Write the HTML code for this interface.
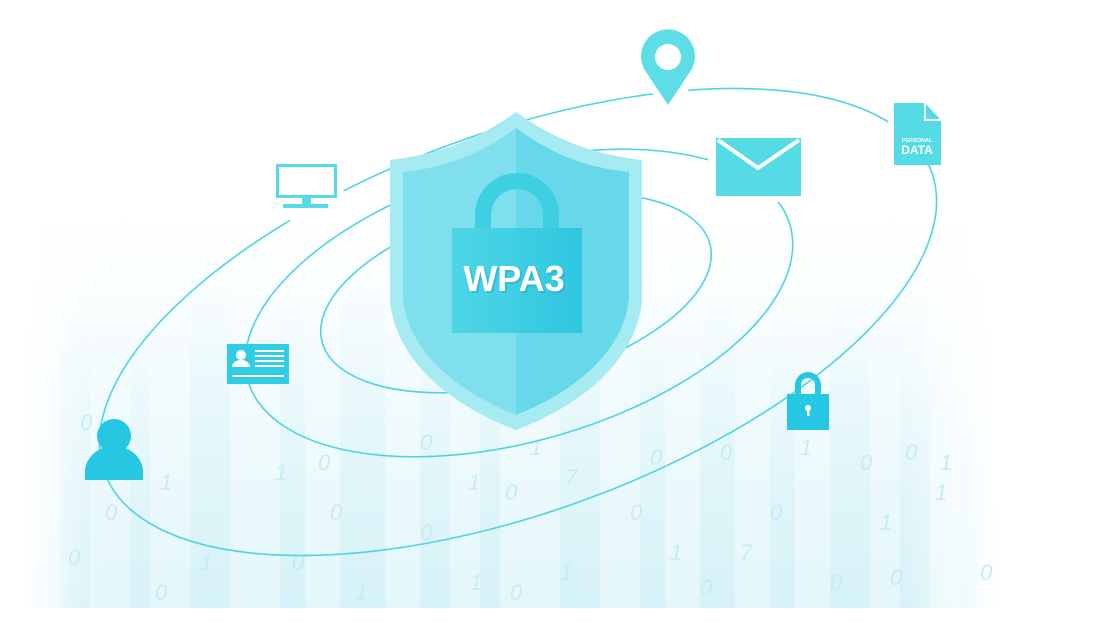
<!DOCTYPE html>
<html><head><meta charset="utf-8"><style>
html,body{margin:0;padding:0;background:#fff;}
body{width:1116px;height:623px;overflow:hidden;position:relative;font-family:"Liberation Sans",sans-serif;}
svg{display:block;}
</style></head><body>
<svg width="1116" height="623" viewBox="0 0 1116 623" xmlns="http://www.w3.org/2000/svg">
<defs>
<linearGradient id="fade" x1="0" y1="0" x2="0" y2="1">
<stop offset="0" stop-color="#eefafc" stop-opacity="0"/>
<stop offset="0.5" stop-color="#e8f8fb" stop-opacity="0.6"/>
<stop offset="1" stop-color="#e2f6fa" stop-opacity="0.95"/>
</linearGradient>
<linearGradient id="hfade" x1="0" y1="0" x2="1" y2="0">
<stop offset="0" stop-color="#fff" stop-opacity="1"/>
<stop offset="0.08" stop-color="#fff" stop-opacity="0"/>
<stop offset="0.9" stop-color="#fff" stop-opacity="0"/>
<stop offset="1" stop-color="#fff" stop-opacity="1"/>
</linearGradient>
<linearGradient id="bar" x1="0" y1="0" x2="0" y2="1">
<stop offset="0" stop-color="#d3f1f7" stop-opacity="0"/>
<stop offset="1" stop-color="#d3f1f7" stop-opacity="0.8"/>
</linearGradient>
<linearGradient id="lockg" x1="0" y1="0" x2="1" y2="0">
<stop offset="0" stop-color="#4fd6e6"/><stop offset="1" stop-color="#2ec6e0"/>
</linearGradient>
</defs>
<rect x="20" y="200" width="980" height="408" fill="url(#fade)"/>
<g fill="url(#bar)">
<rect x="60" y="300" width="30" height="308"/><rect x="130" y="330" width="20" height="278"/>
<rect x="190" y="280" width="40" height="328"/><rect x="280" y="300" width="25" height="308"/>
<rect x="340" y="280" width="45" height="328"/><rect x="420" y="320" width="30" height="288"/>
<rect x="480" y="300" width="20" height="308"/><rect x="560" y="290" width="40" height="318"/>
<rect x="640" y="320" width="25" height="288"/><rect x="700" y="300" width="35" height="308"/>
<rect x="770" y="330" width="25" height="278"/><rect x="830" y="310" width="40" height="298"/>
<rect x="900" y="350" width="30" height="258"/><rect x="960" y="380" width="25" height="228"/>
</g>
<rect x="20" y="200" width="980" height="408" fill="url(#hfade)"/>
<g font-family="Liberation Sans" font-style="italic" font-size="22" fill="#c6ecf4">
<text x="80" y="430">0</text><text x="160" y="490">1</text><text x="105" y="520">0</text><text x="68" y="565">0</text>
<text x="155" y="600">0</text><text x="200" y="570">1</text><text x="275" y="480">1</text><text x="318" y="470">0</text>
<text x="292" y="570">0</text><text x="330" y="520">0</text><text x="355" y="600">1</text><text x="420" y="450">0</text>
<text x="468" y="490">1</text><text x="505" y="500">0</text><text x="530" y="455">1</text><text x="565" y="485">7</text>
<text x="420" y="540">0</text><text x="470" y="590">1</text><text x="510" y="600">0</text><text x="560" y="580">1</text>
<text x="630" y="520">0</text><text x="650" y="465">0</text><text x="670" y="560">1</text><text x="720" y="460">0</text>
<text x="740" y="560">7</text><text x="770" y="520">0</text><text x="800" y="455">1</text><text x="860" y="470">0</text>
<text x="880" y="530">1</text><text x="905" y="460">0</text><text x="935" y="500">1</text><text x="830" y="590">0</text>
<text x="890" y="585">0</text><text x="980" y="580">0</text><text x="940" y="470">1</text><text x="700" y="595">0</text>
</g>
<g fill="none" stroke="#4fd3e3" stroke-width="1.6">
<ellipse cx="518" cy="322" rx="440" ry="190" transform="rotate(-20 518 322)"/>
<ellipse cx="519" cy="303" rx="282" ry="138" transform="rotate(-16 519 303)"/>
<ellipse cx="516" cy="293" rx="200" ry="90" transform="rotate(-14 516 293)"/>
</g>
<g fill="#fff">
<circle cx="668" cy="68" r="30"/><circle cx="918" cy="134" r="32"/><circle cx="306" cy="186" r="38"/>
<rect x="708" y="132" width="99" height="70"/>
</g>
<path d="M516 112 C470 145 430 155 390 160 L390 300 C395 360 450 405 516 430 C582 405 637 360 642 300 L642 160 C602 155 562 145 516 112Z" fill="#a6eaf2"/>
<path d="M516 128 C475 158 440 168 403 172 L403 298 C408 352 458 392 516 415 L516 128Z" fill="#7fdfec"/>
<path d="M516 128 C557 158 592 168 629 172 L629 298 C624 352 574 392 516 415 L516 128Z" fill="#66d8e9"/>
<path d="M475 232 L475 215 A42 42 0 0 1 559 215 L559 232 L543 232 L543 215 A26 26 0 0 0 491 215 L491 232Z" fill="#3fcfe3"/>
<rect x="452" y="228" width="130" height="105" fill="url(#lockg)"/>
<text x="516" y="293" text-anchor="middle" font-family="Liberation Sans" font-weight="bold" font-size="36" fill="#2aa7c0" opacity="0.5">WPA3</text>
<text x="514" y="291" text-anchor="middle" font-family="Liberation Sans" font-weight="bold" font-size="36" fill="#ffffff">WPA3</text>
<path d="M668 105 L646 72 A27 27 0 1 1 690 72 Z" fill="#5fdde6"/>
<circle cx="668" cy="57" r="13" fill="#fff"/>
<rect x="716" y="138" width="85" height="58" fill="#55dbe6"/>
<polyline points="718,140 758,168 799,140" fill="none" stroke="#fff" stroke-width="4"/>
<path d="M894 103 L925 103 L941 120 L941 165 L894 165Z" fill="#55dbe6"/>
<path d="M925 103 L925 120 L941 120" fill="none" stroke="#fff" stroke-width="2"/>
<text x="917" y="142" text-anchor="middle" font-family="Liberation Sans" font-weight="bold" font-size="5.5" fill="#fff">PERSONAL</text>
<text x="917" y="154" text-anchor="middle" font-family="Liberation Sans" font-weight="bold" font-size="12" fill="#fff">DATA</text>
<rect x="277.5" y="165.5" width="58" height="31" fill="none" stroke="#55dbe6" stroke-width="3"/>
<rect x="302" y="196" width="9" height="9" fill="#55dbe6"/>
<rect x="283" y="204" width="45" height="4" fill="#55dbe6"/>
<rect x="227" y="344" width="62" height="40" fill="#2fcce3"/>
<circle cx="241" cy="355" r="5" fill="#fff"/>
<path d="M232 367 A9 7 0 0 1 250 367Z" fill="#fff"/>
<g fill="#fff"><rect x="255" y="350" width="29" height="2"/><rect x="255" y="355" width="29" height="2"/><rect x="255" y="360" width="29" height="2"/><rect x="255" y="365" width="29" height="2"/><rect x="232" y="375" width="52" height="2"/></g>
<circle cx="114" cy="436" r="17" fill="#25c7e2"/>
<path d="M85 480 L85 472 A29 26 0 0 1 143 472 L143 480Z" fill="#25c7e2"/>
<path d="M795 397 L795 385 A13 13 0 0 1 821 385 L821 397 L815 397 L815 385 A7 7 0 0 0 801 385 L801 397Z" fill="#25c7e2"/>
<rect x="787" y="394" width="42" height="36" fill="#25c7e2"/>
<circle cx="808" cy="408" r="3" fill="#fff"/><rect x="807" y="408" width="2.5" height="8" fill="#fff"/>
</svg>
</body></html>
